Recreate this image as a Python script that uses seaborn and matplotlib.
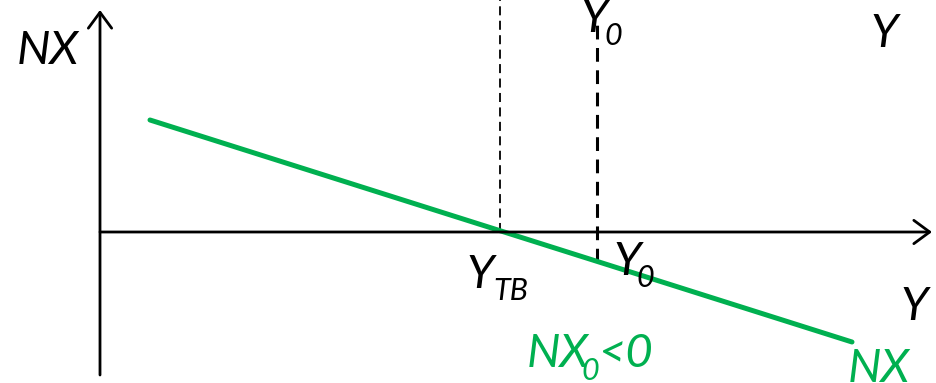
import numpy as np
import pandas as pd
import seaborn as sns
import matplotlib.pyplot as plt

sns.set_theme(style="white")
plt.rcParams['font.family'] = ['Lato', 'DejaVu Sans']

# NX curve (income Y on x, net exports NX on y), origin at the axes crossing
nx_y = [50, 752]
nx_val = [112, -110]
y_tb = 400          # trade balance income
y_0 = 497           # current income
nx_0 = -30          # NX at Y0
dash_top_tb = 232
dash_top_0 = 215

green = "#00B050"

fig = plt.figure(figsize=(9.36, 3.83), dpi=100)
ax = fig.add_axes([0, 0, 1, 1])
ax.set_xlim(-100, 836)
ax.set_ylim(-151, 232)
ax.axis("off")

# axes with open arrowheads
arrow = dict(arrowstyle="->,head_length=0.95,head_width=0.7", lw=2.0, color="black",
             shrinkA=0, shrinkB=0)
ax.annotate("", xy=(0, 222), xytext=(0, -143), arrowprops=arrow)
ax.annotate("", xy=(832, 0), xytext=(0, 0), arrowprops=arrow)

# dashed guides
ax.plot([y_tb, y_tb], [0, dash_top_tb], color="black", lw=1.3, ls=(0, (5, 3)))
ax.plot([y_0, y_0], [nx_0, dash_top_0], color="black", lw=2.2, ls=(0, (4.5, 2.8)))

# NX line
df = pd.DataFrame({"Y": nx_y, "NX": nx_val})
sns.lineplot(data=df, x="Y", y="NX", color=green, lw=3.6, ax=ax)

big = 34
small = 22
kw = dict(style="italic", ha="left", va="baseline")
ax.text(-83, 168, "NX", fontsize=big, color="black", **kw)
ax.text(770, 185, "Y", fontsize=big, color="black", **kw)
ax.text(480, 200, "Y", fontsize=big, color="black", **kw)
ax.text(504, 187, "0", fontsize=small, color="black", **kw)
ax.text(366, -56, "Y", fontsize=big, color="black", **kw)
ax.text(393, -68, "TB", fontsize=small, color="black", **kw)
ax.text(513, -43, "Y", fontsize=big, color="black", **kw)
ax.text(536, -55, "0", fontsize=small, color="black", **kw)
ax.text(800, -88, "Y", fontsize=big, color="black", **kw)
ax.text(427, -135, "NX", fontsize=big, color=green, **kw)
ax.text(481, -148, "0", fontsize=small, color=green, **kw)
ax.text(498, -135, "<0", fontsize=big, color=green, **kw)
ax.text(748, -150, "NX", fontsize=big, color=green, **kw)

fig.savefig("out.png", dpi=100)
